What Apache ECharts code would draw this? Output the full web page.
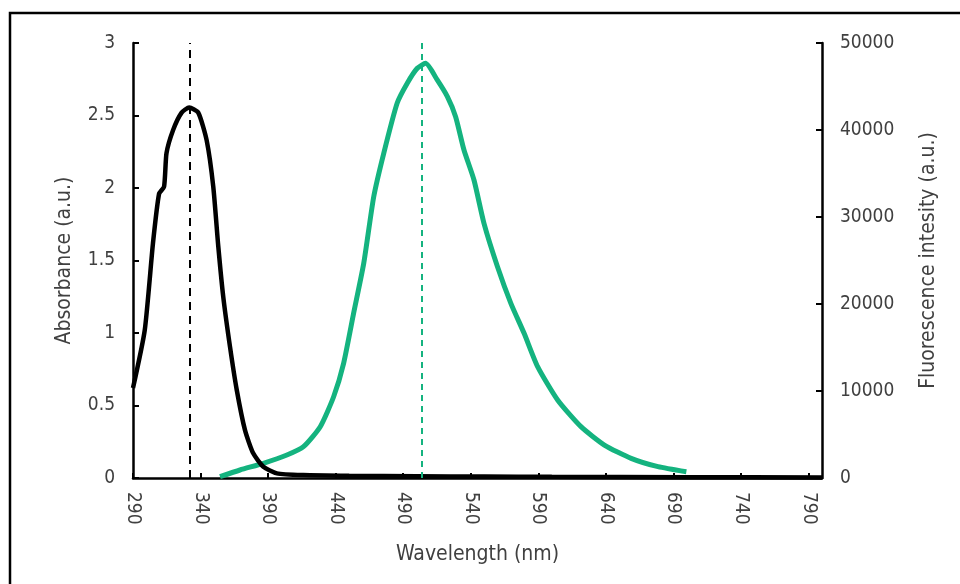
<!DOCTYPE html>
<html>
<head>
<meta charset="utf-8">
<title>Absorbance / fluorescence</title>
<script src="https://cdn.jsdelivr.net/npm/echarts@6/dist/echarts.min.js"></script>
<style>
  html, body { margin: 0; padding: 0; background: #fff; }
  #chart { width: 960px; height: 584px; }
</style>
</head>
<body>
<div id="chart"></div>
<script>
// absorbance spectrum (left axis)
var absWavelength = [290, 298.7, 304.8, 309.3, 313, 314.8, 319.7, 326, 331.6, 338.3, 344.5, 349.4, 353.1, 356.8, 361.8, 366.8, 372.9, 379, 386.5, 396.5, 416, 450, 500, 550, 600, 700, 800];
var absValue = [0.62, 1.02, 1.62, 1.96, 2.01, 2.24, 2.40, 2.52, 2.555, 2.52, 2.33, 2.01, 1.60, 1.25, 0.905, 0.607, 0.33, 0.17, 0.078, 0.032, 0.02, 0.015, 0.012, 0.01, 0.008, 0.006, 0.004];

// fluorescence emission (right axis)
var flWavelength = [354.4, 369.2, 386.5, 403.9, 416.2, 428.6, 438.5, 445.9, 453.3, 460.8, 468.2, 475.6, 485.5, 493, 500.4, 506.6, 515.2, 522.7, 528.8, 535, 542.4, 549.8, 559.8, 569.7, 579.5, 589.5, 604.3, 621.6, 638.9, 658.7, 678.6, 699.6];
var flValue = [150, 920, 1690, 2640, 3600, 5900, 9340, 13180, 18930, 24680, 32340, 37320, 43070, 45370, 47090, 47660, 45750, 43830, 41530, 37700, 34250, 29270, 24290, 20080, 16630, 12800, 8970, 5900, 3790, 2260, 1300, 720];

// peak markers
var absPeak = 332;
var flPeak = 504;

var FONT = "'Liberation Sans Narrow', 'DejaVu Sans Condensed', sans-serif";
var TEXT = '#404040';
var GREEN = '#14b37f';

function pairs(xs, ys) {
  return xs.map(function (x, i) { return [x, ys[i]]; });
}

var chart = echarts.init(document.getElementById('chart'));

var option = {
  animation: false,
  backgroundColor: '#fff',
  textStyle: { fontFamily: FONT },
  graphic: [{
    type: 'rect',
    shape: { x: 10, y: 13, width: 980, height: 620 },
    style: { fill: 'none', stroke: '#000', lineWidth: 2.5 },
    silent: true
  }],
  grid: { left: 133, right: 138, top: 43, bottom: 106 },
  xAxis: {
    type: 'value',
    min: 290,
    max: 800,
    interval: 50,
    name: 'Wavelength (nm)',
    nameLocation: 'middle',
    nameGap: 66,
    nameTextStyle: { fontSize: 21, color: TEXT, fontFamily: FONT },
    axisLine: { lineStyle: { color: '#000', width: 2.5 } },
    axisTick: { inside: true, length: 5, lineStyle: { color: '#000', width: 2 } },
    axisLabel: {
      rotate: -90,
      margin: 14,
      fontSize: 19,
      color: TEXT,
      fontFamily: FONT,
      showMaxLabel: false,
      formatter: function (v) { return v === 800 ? '' : String(v); }
    },
    splitLine: { show: false }
  },
  yAxis: [{
    type: 'value',
    min: 0,
    max: 3,
    interval: 0.5,
    position: 'left',
    name: 'Absorbance (a.u.)',
    nameLocation: 'middle',
    nameGap: 58,
    nameTextStyle: { fontSize: 21, color: TEXT, fontFamily: FONT },
    axisLine: { show: true, lineStyle: { color: '#000', width: 2.5 } },
    axisTick: { show: true, inside: true, length: 6, lineStyle: { color: '#000', width: 2 } },
    axisLabel: { fontSize: 19, color: TEXT, fontFamily: FONT, margin: 18 },
    splitLine: { show: false }
  }, {
    type: 'value',
    min: 0,
    max: 50000,
    interval: 10000,
    position: 'right',
    name: 'Fluorescence intesity (a.u.)',
    nameLocation: 'middle',
    nameGap: 96,
    nameTextStyle: { fontSize: 21, color: TEXT, fontFamily: FONT },
    axisLine: { show: true, lineStyle: { color: '#000', width: 2.5 } },
    axisTick: { show: true, inside: true, length: 6, lineStyle: { color: '#000', width: 2 } },
    axisLabel: {
      fontSize: 19,
      color: TEXT,
      fontFamily: FONT,
      margin: 18,
      formatter: function (v) { return String(v); }
    },
    splitLine: { show: false }
  }],
  series: [{
    name: 'Absorbance',
    type: 'line',
    yAxisIndex: 0,
    data: pairs(absWavelength, absValue),
    showSymbol: false,
    smooth: 0.2,
    lineStyle: { color: '#000', width: 4.5 },
    z: 3,
    markLine: {
      silent: true,
      symbol: 'none',
      label: { show: false },
      lineStyle: { color: '#000', type: [8, 6], width: 2 },
      data: [{ xAxis: absPeak }]
    }
  }, {
    name: 'Fluorescence',
    type: 'line',
    yAxisIndex: 1,
    data: pairs(flWavelength, flValue),
    showSymbol: false,
    smooth: 0.2,
    lineStyle: { color: GREEN, width: 5 },
    z: 2,
    markLine: {
      silent: true,
      symbol: 'none',
      label: { show: false },
      lineStyle: { color: GREEN, type: [6, 5], width: 2 },
      data: [{ xAxis: flPeak }]
    }
  }]
};

chart.setOption(option);
</script>
</body>
</html>
